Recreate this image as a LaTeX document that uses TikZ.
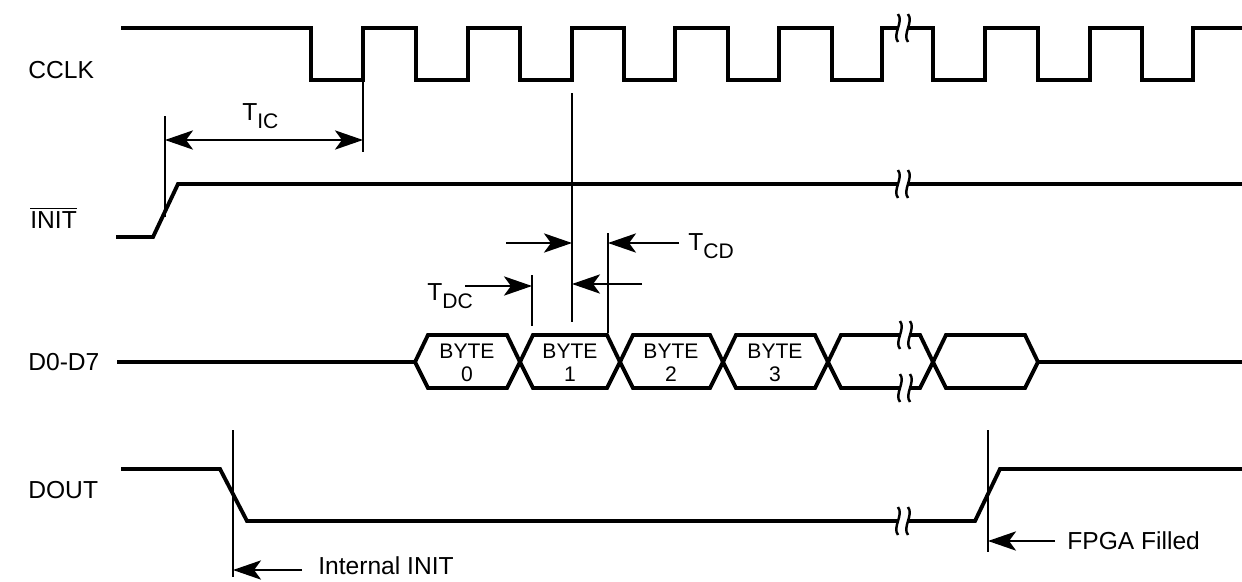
\documentclass[tikz,border=0pt]{standalone}
\usepackage{fontspec}
\setmainfont{Liberation Sans}
\usetikzlibrary{arrows.meta}
\tikzset{
	tip/.tip={Stealth[length=16pt,width=11pt,inset=4pt]},
	signal/.style={black, line width=2.2pt, line join=miter},
	marker/.style={black, line width=0.8pt},
	dim/.style={black, line width=0.8pt, -tip},
	squig/.style={black, line width=1.4pt},
	signame/.style={font=\fontsize{14}{16}\selectfont, anchor=west, inner sep=0pt},
	bytelab/.style={font=\fontsize{12}{13}\selectfont, align=center, inner sep=0pt},
	note/.style={font=\fontsize{14}{16}\selectfont, inner sep=0pt},
}
\newcommand{\tlab}[1]{T\raisebox{-5pt}{\fontsize{12}{12}\selectfont #1}}
% break symbol on a signal line
\newcommand{\brkmark}[2]{%
	\fill[white] (#1-5,#2-4) rectangle (#1+5,#2+4);
	\draw[squig] (#1-5,#2-14) .. controls (#1+1,#2-6) and (#1-11,#2+6) .. (#1-5,#2+14);
	\draw[squig] (#1+5,#2-14) .. controls (#1+11,#2-6) and (#1-1,#2+6) .. (#1+5,#2+14);
}

\begin{document}
\begin{tikzpicture}[x=0.02cm,y=-0.02cm]
	\useasboundingbox (0,0) rectangle (1242,582);
	
	% Signal names
	\node[signame] (cclk) at (28,70) {CCLK};
	\node[signame] (init) at (30,218) {$\overline{\mbox{INIT}}$};
	\node[signame] (data) at (28,362) {D0-D7};
	\node[signame] (dout) at (28,490) {DOUT};
	
	% CCLK
	\draw[signal] (121,28) -| (311,80) -| (363,28) -| (416,80) -| (468,28)
		-| (520,80) -| (572,28) -| (624,80) -| (675,28) -| (728,80) -| (779,28)
		-| (832,80) -| (882,28) -| (933,80) -| (985,28) -| (1038,80) -| (1090,28)
		-| (1142,80) -| (1193,28) -- (1242,28);
	\brkmark{903}{28}
	
	% INIT
	\draw[signal] (116,237) -- (153,237) -- (178,184) -- (1242,184);
	\brkmark{903}{184}
	
	% D0-D7 with the data bytes
	\draw[signal] (117,362) -- (415,362);
	\draw[signal] (415,362) -- (428,335) -- (507,335) -- (520,362) -- (507,388) -- (428,388) -- cycle;
	\draw[signal] (520,362) -- (533,335) -- (607,335) -- (620,362) -- (607,388) -- (533,388) -- cycle;
	\draw[signal] (620,362) -- (633,335) -- (710,335) -- (723,362) -- (710,388) -- (633,388) -- cycle;
	\draw[signal] (723,362) -- (736,335) -- (815,335) -- (828,362) -- (815,388) -- (736,388) -- cycle;
	\draw[signal] (828,362) -- (841,335) -- (920,335) -- (933,362) -- (920,388) -- (841,388) -- cycle;
	\draw[signal] (933,362) -- (946,335) -- (1025,335) -- (1038,362) -- (1025,388) -- (946,388) -- cycle;
	\draw[signal] (1038,362) -- (1242,362);
	\brkmark{905}{335}
	\brkmark{905}{388}
	\node[bytelab] (byte0) at (467,363) {BYTE\\0};
	\node[bytelab] (byte1) at (570,363) {BYTE\\1};
	\node[bytelab] (byte2) at (671,363) {BYTE\\2};
	\node[bytelab] (byte3) at (775,363) {BYTE\\3};
	
	% DOUT
	\draw[signal] (121,469) -- (220,469) -- (247,521) -- (975,521) -- (1000,469) -- (1242,469);
	\brkmark{903}{521}
	
	% Timing markers
	\draw[marker] (165,116) -- (165,217);
	\draw[marker] (363,80) -- (363,152);
	\draw[marker] (572,93) -- (572,322);
	\draw[marker] (532,275) -- (532,326);
	\draw[marker] (608,233) -- (608,333);
	\draw[marker] (233,430) -- (233,577);
	\draw[marker] (988,430) -- (988,552);
	
	% T_IC
	\coordinate (icA) at (165,140);
	\coordinate (icB) at (363,140);
	\draw[dim,tip-tip] (icA) -- (icB);
	\node[note, anchor=base west] (tic) at (242,120) {\tlab{IC}};
	
	% T_DC and T_CD
	\coordinate (dcS) at (465,286);
	\coordinate (dcE) at (532,286);
	\coordinate (dcR) at (642,284);
	\coordinate (dcM) at (572,284);
	\draw[dim] (dcS) -- (dcE);
	\draw[dim] (dcR) -- (dcM);
	\node[note, anchor=base west] (tdc) at (427,300) {\tlab{DC}};
	\coordinate (cdS) at (506,243);
	\coordinate (cdM) at (572,243);
	\coordinate (cdR) at (679,243);
	\coordinate (cdE) at (608,243);
	\draw[dim] (cdS) -- (cdM);
	\draw[dim] (cdR) -- (cdE);
	\node[note, anchor=base west] (tcd) at (688,250) {\tlab{CD}};
	
	% DOUT notes
	\coordinate (inS) at (302,570);
	\coordinate (inE) at (233,570);
	\draw[dim] (inS) -- (inE);
	\node[note, anchor=west] (intinit) at (318,566) {Internal INIT};
	\coordinate (fiS) at (1055,541);
	\coordinate (fiE) at (988,541);
	\draw[dim] (fiS) -- (fiE);
	\node[note, anchor=west] (filled) at (1067,541) {FPGA Filled};
	
\end{tikzpicture}
\end{document}
